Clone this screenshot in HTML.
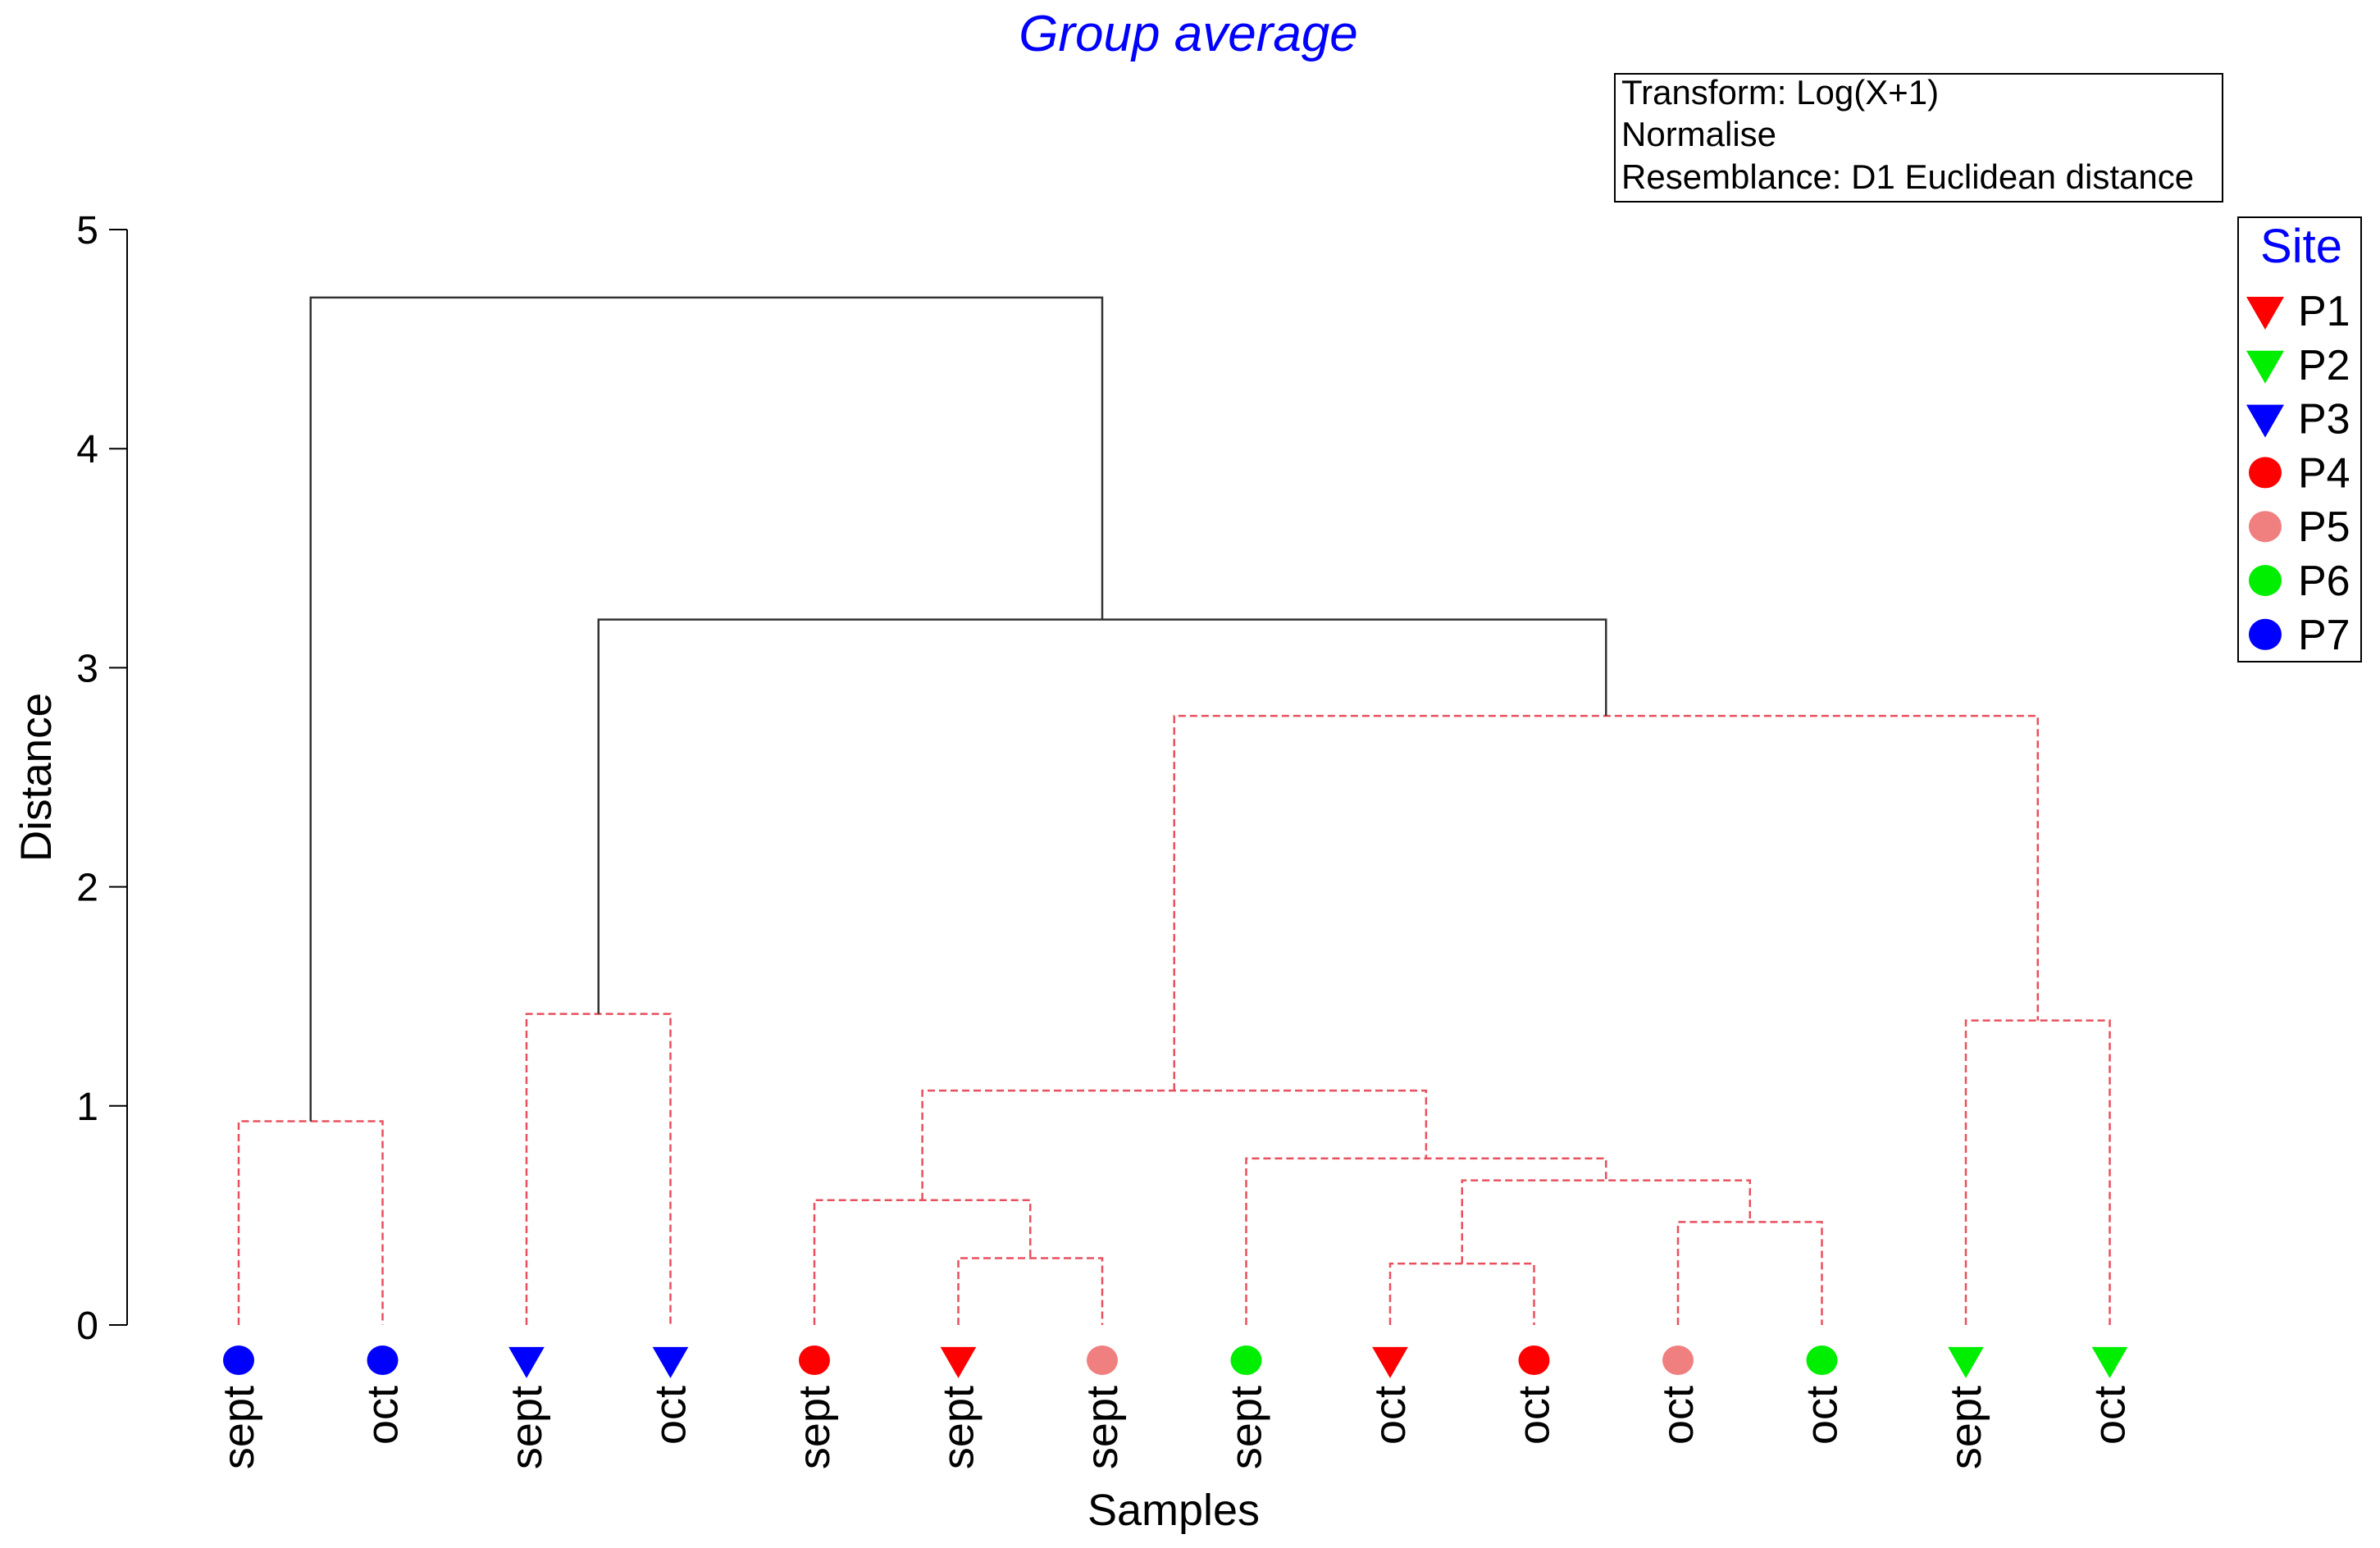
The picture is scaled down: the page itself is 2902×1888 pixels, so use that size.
<!DOCTYPE html>
<html><head><meta charset="utf-8"><style>
html,body{margin:0;padding:0;background:#fff}
svg{display:block;font-family:"Liberation Sans",Arial,sans-serif}
</style></head><body>
<svg id="chart" width="2902" height="1888" viewBox="0 0 2902 1888">
<text x="1449" y="62" font-size="62" font-style="italic" fill="#0000ff" text-anchor="middle">Group average</text>
<g>
<rect x="1969" y="90" width="741" height="156" fill="#fff" stroke="#000" stroke-width="2"/>
<text x="1977" y="127" font-size="42">Transform: Log(X+1)</text>
<text x="1977" y="178" font-size="42">Normalise</text>
<text x="1977" y="230" font-size="42">Resemblance: D1 Euclidean distance</text>
</g>
<g id="legend">
<rect x="2729" y="265" width="150" height="542" fill="#fff" stroke="#000" stroke-width="2"/>
<text x="2806" y="320" font-size="58" fill="#0000ff" text-anchor="middle">Site</text>
</g>
<g id="axis"></g>
<text transform="translate(62,948) rotate(-90)" font-size="53" text-anchor="middle">Distance</text>
<text x="1431" y="1860" font-size="54" text-anchor="middle">Samples</text>
<g id="links"></g>
<g id="leaves"></g>
</svg>
<script>
const sites = ["P7","P7","P3","P3","P4","P1","P5","P6","P1","P4","P5","P6","P2","P2"];
const months = ["sept","oct","sept","oct","sept","sept","sept","sept","oct","oct","oct","oct","sept","oct"];
// merges: [left node, right node, height, solid]; node ids >= 14 refer to earlier merges
const mergeData = [
 [0,1,0.93,0],[2,3,1.42,0],[5,6,0.305,0],[4,16,0.57,0],[8,9,0.28,0],[10,11,0.47,0],
 [18,19,0.66,0],[7,20,0.76,0],[17,21,1.07,0],[12,13,1.39,0],[22,23,2.78,0],[15,24,3.22,1],[14,25,4.69,1]
];
const yTicks = [0,1,2,3,4,5];
const legendSites = ["P1","P2","P3","P4","P5","P6","P7"];
const siteColor = {P1:"#ff0000",P2:"#00ee00",P3:"#0000ff",P4:"#ff0000",P5:"#f08080",P6:"#00ee00",P7:"#0000ff"};
const siteShape = {P1:"tri",P2:"tri",P3:"tri",P4:"dot",P5:"dot",P6:"dot",P7:"dot"};

const NS="http://www.w3.org/2000/svg";
const y0=1616, unit=267.2;
function yS(v){return y0-v*unit;}
function xS(i){return 291+175.5*i;}
function mk(tag,attrs,parent){const e=document.createElementNS(NS,tag);for(const k in attrs)e.setAttribute(k,attrs[k]);parent.appendChild(e);return e;}

const axis=document.getElementById('axis');
mk('line',{x1:155,x2:155,y1:yS(5),y2:yS(0),stroke:'#000','stroke-width':2},axis);
yTicks.forEach(t=>{
  const l=mk('line',{x1:133,x2:155,y1:yS(t),y2:yS(t),stroke:'#000','stroke-width':2},axis);
  
  
  const tx=mk('text',{x:120,y:yS(t)+17,'font-size':48,'text-anchor':'end'},axis);
  tx.textContent=t;
  
  
});

const nodes=[];
for(let i=0;i<sites.length;i++) nodes.push({x:xS(i),h:0});
const links=document.getElementById('links');
mergeData.forEach(m=>{
  const a=nodes[m[0]], b=nodes[m[1]], h=m[2];
  const st=m[3]?{stroke:'#333','stroke-width':2.5,fill:'none'}:{stroke:'#e8505e','stroke-width':2.5,fill:'none','stroke-dasharray':'9 5'};
  const p=mk('path',Object.assign({d:`M${a.x},${yS(a.h)}V${yS(h)}H${b.x}V${yS(b.h)}`},st),links);
  
  
  nodes.push({x:(a.x+b.x)/2,h:h});
});

const leaves=document.getElementById('leaves');
function marker(shape,color,cx,cy,r,parent){
  if(shape==='tri') return mk('path',{d:`M${cx-r*1.15},${cy-r*0.85}H${cx+r*1.15}L${cx},${cy+r*1.15}Z`,fill:color},parent);
  return mk('ellipse',{cx:cx,cy:cy,rx:r,ry:r*0.95,fill:color},parent);
}
sites.forEach((s,i)=>{
  const m=marker(siteShape[s],siteColor[s],xS(i),1659,19,leaves);
  
  
  const t=mk('text',{transform:`translate(${xS(i)+18},1690) rotate(-90)`,'font-size':54,'text-anchor':'end'},leaves);
  t.textContent=months[i];
  
  
});

const legend=document.getElementById('legend');
legendSites.forEach((s,i)=>{
  const cy=379+i*65.8;
  const m=marker(siteShape[s],siteColor[s],2762,cy,20,legend);
  
  
  const t=mk('text',{x:2802,y:cy+18,'font-size':52},legend);
  t.textContent=s;
  
  
});
</script>
</body></html>
